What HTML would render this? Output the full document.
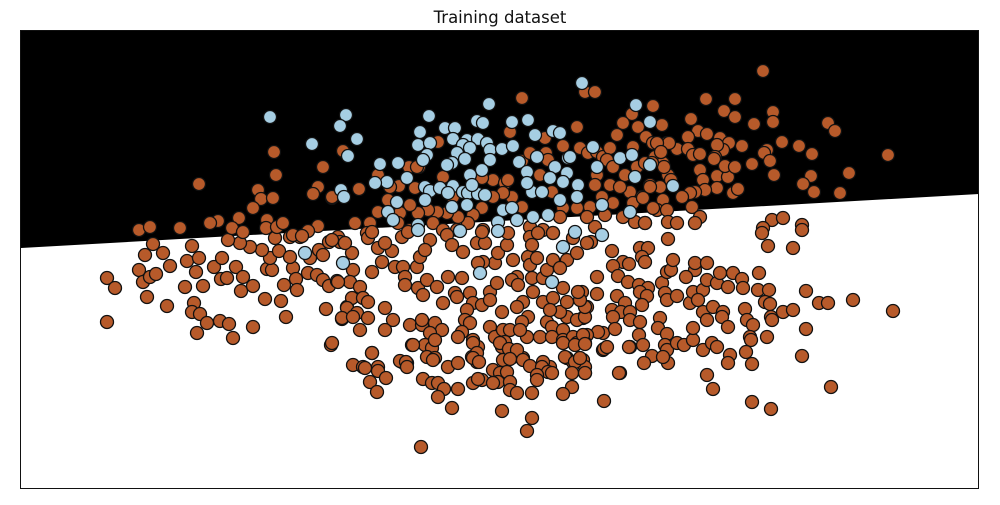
<!DOCTYPE html>
<html><head><meta charset="utf-8"><style>
html,body{margin:0;padding:0;background:#fff;}
svg{display:block;}
circle{stroke:#111;stroke-width:1.3;}
.b circle{fill:#b75a2a;}
.l circle{fill:#a6cee3;}
</style></head><body>
<svg width="1000" height="505" viewBox="0 0 1000 505" xmlns="http://www.w3.org/2000/svg">
<rect x="0" y="0" width="1000" height="505" fill="#fff"/>
<polygon points="21,30 979,30 979,194 21,248" fill="#000"/>
<text x="500" y="23" text-anchor="middle" font-family="DejaVu Sans, Liberation Sans, sans-serif" font-size="16.5" fill="#111">Training dataset</text>
<g class="b">
<circle cx="107" cy="278" r="6.5"/><circle cx="115" cy="288" r="6.5"/><circle cx="107" cy="322" r="6.5"/><circle cx="145" cy="255" r="6.5"/><circle cx="153" cy="244" r="6.5"/><circle cx="163" cy="253" r="6.5"/><circle cx="139" cy="270" r="6.5"/><circle cx="143" cy="282" r="6.5"/><circle cx="150" cy="277" r="6.5"/><circle cx="156" cy="274" r="6.5"/><circle cx="147" cy="297" r="6.5"/><circle cx="170" cy="266" r="6.5"/><circle cx="167" cy="306" r="6.5"/><circle cx="192" cy="246" r="6.5"/><circle cx="187" cy="261" r="6.5"/><circle cx="199" cy="258" r="6.5"/><circle cx="196" cy="272" r="6.5"/><circle cx="185" cy="287" r="6.5"/><circle cx="203" cy="286" r="6.5"/><circle cx="194" cy="303" r="6.5"/><circle cx="192" cy="312" r="6.5"/><circle cx="200" cy="314" r="6.5"/><circle cx="207" cy="323" r="6.5"/><circle cx="197" cy="333" r="6.5"/><circle cx="220" cy="321" r="6.5"/><circle cx="229" cy="324" r="6.5"/><circle cx="233" cy="338" r="6.5"/><circle cx="253" cy="327" r="6.5"/><circle cx="214" cy="267" r="6.5"/><circle cx="222" cy="258" r="6.5"/><circle cx="221" cy="279" r="6.5"/><circle cx="227" cy="278" r="6.5"/><circle cx="236" cy="267" r="6.5"/><circle cx="243" cy="277" r="6.5"/><circle cx="241" cy="291" r="6.5"/><circle cx="253" cy="286" r="6.5"/><circle cx="265" cy="299" r="6.5"/><circle cx="281" cy="301" r="6.5"/><circle cx="286" cy="317" r="6.5"/><circle cx="267" cy="269" r="6.5"/><circle cx="272" cy="270" r="6.5"/><circle cx="270" cy="258" r="6.5"/><circle cx="262" cy="250" r="6.5"/><circle cx="250" cy="247" r="6.5"/><circle cx="240" cy="243" r="6.5"/><circle cx="228" cy="240" r="6.5"/><circle cx="279" cy="251" r="6.5"/><circle cx="293" cy="268" r="6.5"/><circle cx="284" cy="285" r="6.5"/><circle cx="296" cy="279" r="6.5"/><circle cx="297" cy="290" r="6.5"/><circle cx="290" cy="257" r="6.5"/><circle cx="310" cy="258" r="6.5"/><circle cx="319" cy="250" r="6.5"/><circle cx="323" cy="255" r="6.5"/><circle cx="308" cy="273" r="6.5"/><circle cx="317" cy="275" r="6.5"/><circle cx="323" cy="280" r="6.5"/><circle cx="329" cy="286" r="6.5"/><circle cx="337" cy="281" r="6.5"/><circle cx="326" cy="309" r="6.5"/><circle cx="342" cy="319" r="6.5"/><circle cx="331" cy="345" r="6.5"/><circle cx="329" cy="242" r="6.5"/><circle cx="342" cy="242" r="6.5"/><circle cx="347" cy="307" r="6.5"/><circle cx="300" cy="237" r="6.5"/><circle cx="290" cy="237" r="6.5"/><circle cx="275" cy="238" r="6.5"/>
<circle cx="274" cy="152" r="6.5"/><circle cx="276" cy="175" r="6.5"/><circle cx="199" cy="184" r="6.5"/><circle cx="258" cy="190" r="6.5"/><circle cx="261" cy="199" r="6.5"/><circle cx="273" cy="198" r="6.5"/><circle cx="253" cy="208" r="6.5"/><circle cx="239" cy="218" r="6.5"/><circle cx="218" cy="221" r="6.5"/><circle cx="210" cy="223" r="6.5"/><circle cx="232" cy="228" r="6.5"/><circle cx="243" cy="232" r="6.5"/><circle cx="267" cy="220" r="6.5"/><circle cx="266" cy="228" r="6.5"/><circle cx="277" cy="227" r="6.5"/><circle cx="283" cy="223" r="6.5"/><circle cx="139" cy="230" r="6.5"/><circle cx="150" cy="227" r="6.5"/><circle cx="180" cy="228" r="6.5"/><circle cx="343" cy="151" r="6.5"/><circle cx="323" cy="167" r="6.5"/><circle cx="318" cy="187" r="6.5"/><circle cx="313" cy="194" r="6.5"/><circle cx="332" cy="198" r="6.5"/><circle cx="318" cy="226" r="6.5"/><circle cx="308" cy="231" r="6.5"/><circle cx="293" cy="235" r="6.5"/><circle cx="302" cy="236" r="6.5"/>
<circle cx="522" cy="98" r="6.5"/><circle cx="585" cy="92" r="6.5"/><circle cx="595" cy="92" r="6.5"/><circle cx="653" cy="106" r="6.5"/><circle cx="632" cy="114" r="6.5"/><circle cx="623" cy="123" r="6.5"/><circle cx="662" cy="125" r="6.5"/><circle cx="617" cy="135" r="6.5"/><circle cx="638" cy="127" r="6.5"/><circle cx="646" cy="137" r="6.5"/><circle cx="653" cy="143" r="6.5"/><circle cx="667" cy="143" r="6.5"/><circle cx="633" cy="147" r="6.5"/><circle cx="577" cy="127" r="6.5"/><circle cx="510" cy="132" r="6.5"/><circle cx="545" cy="138" r="6.5"/><circle cx="438" cy="142" r="6.5"/><circle cx="409" cy="167" r="6.5"/><circle cx="419" cy="167" r="6.5"/><circle cx="378" cy="175" r="6.5"/><circle cx="359" cy="189" r="6.5"/><circle cx="332" cy="197" r="6.5"/><circle cx="399" cy="186" r="6.5"/><circle cx="415" cy="188" r="6.5"/><circle cx="443" cy="177" r="6.5"/><circle cx="493" cy="180" r="6.5"/><circle cx="505" cy="183" r="6.5"/><circle cx="508" cy="180" r="6.5"/><circle cx="522" cy="161" r="6.5"/><circle cx="530" cy="153" r="6.5"/><circle cx="546" cy="153" r="6.5"/><circle cx="548" cy="160" r="6.5"/><circle cx="540" cy="175" r="6.5"/><circle cx="563" cy="146" r="6.5"/><circle cx="580" cy="148" r="6.5"/><circle cx="588" cy="153" r="6.5"/><circle cx="597" cy="152" r="6.5"/><circle cx="603" cy="157" r="6.5"/><circle cx="610" cy="148" r="6.5"/><circle cx="607" cy="160" r="6.5"/><circle cx="613" cy="167" r="6.5"/><circle cx="597" cy="175" r="6.5"/><circle cx="595" cy="185" r="6.5"/><circle cx="610" cy="185" r="6.5"/><circle cx="625" cy="175" r="6.5"/><circle cx="637" cy="167" r="6.5"/><circle cx="645" cy="163" r="6.5"/><circle cx="655" cy="157" r="6.5"/><circle cx="663" cy="163" r="6.5"/><circle cx="650" cy="185" r="6.5"/><circle cx="660" cy="187" r="6.5"/><circle cx="630" cy="192" r="6.5"/><circle cx="642" cy="197" r="6.5"/><circle cx="663" cy="200" r="6.5"/><circle cx="657" cy="210" r="6.5"/><circle cx="633" cy="203" r="6.5"/><circle cx="620" cy="187" r="6.5"/><circle cx="613" cy="203" r="6.5"/><circle cx="602" cy="197" r="6.5"/><circle cx="590" cy="207" r="6.5"/><circle cx="605" cy="215" r="6.5"/><circle cx="623" cy="217" r="6.5"/><circle cx="635" cy="222" r="6.5"/><circle cx="645" cy="223" r="6.5"/><circle cx="595" cy="227" r="6.5"/><circle cx="587" cy="217" r="6.5"/><circle cx="577" cy="208" r="6.5"/><circle cx="563" cy="208" r="6.5"/><circle cx="552" cy="192" r="6.5"/><circle cx="560" cy="217" r="6.5"/><circle cx="543" cy="230" r="6.5"/><circle cx="553" cy="233" r="6.5"/><circle cx="530" cy="227" r="6.5"/><circle cx="522" cy="207" r="6.5"/><circle cx="512" cy="197" r="6.5"/><circle cx="503" cy="193" r="6.5"/><circle cx="493" cy="197" r="6.5"/><circle cx="482" cy="178" r="6.5"/><circle cx="482" cy="208" r="6.5"/><circle cx="473" cy="215" r="6.5"/><circle cx="468" cy="223" r="6.5"/><circle cx="483" cy="230" r="6.5"/><circle cx="458" cy="217" r="6.5"/><circle cx="447" cy="213" r="6.5"/><circle cx="437" cy="212" r="6.5"/><circle cx="428" cy="210" r="6.5"/><circle cx="418" cy="213" r="6.5"/><circle cx="410" cy="205" r="6.5"/><circle cx="400" cy="213" r="6.5"/><circle cx="398" cy="223" r="6.5"/><circle cx="410" cy="230" r="6.5"/><circle cx="433" cy="223" r="6.5"/><circle cx="443" cy="230" r="6.5"/><circle cx="457" cy="230" r="6.5"/><circle cx="388" cy="200" r="6.5"/><circle cx="378" cy="212" r="6.5"/><circle cx="370" cy="223" r="6.5"/><circle cx="355" cy="223" r="6.5"/><circle cx="367" cy="233" r="6.5"/><circle cx="338" cy="237" r="6.5"/><circle cx="417" cy="167" r="6.5"/><circle cx="453" cy="197" r="6.5"/><circle cx="390" cy="187" r="6.5"/>
<circle cx="763" cy="71" r="6.5"/><circle cx="706" cy="99" r="6.5"/><circle cx="735" cy="99" r="6.5"/><circle cx="691" cy="119" r="6.5"/><circle cx="724" cy="111" r="6.5"/><circle cx="735" cy="117" r="6.5"/><circle cx="773" cy="112" r="6.5"/><circle cx="773" cy="122" r="6.5"/><circle cx="754" cy="124" r="6.5"/><circle cx="828" cy="123" r="6.5"/><circle cx="835" cy="131" r="6.5"/><circle cx="888" cy="155" r="6.5"/><circle cx="698" cy="131" r="6.5"/><circle cx="707" cy="134" r="6.5"/><circle cx="688" cy="137" r="6.5"/><circle cx="720" cy="138" r="6.5"/><circle cx="729" cy="143" r="6.5"/><circle cx="723" cy="150" r="6.5"/><circle cx="717" cy="145" r="6.5"/><circle cx="742" cy="146" r="6.5"/><circle cx="782" cy="142" r="6.5"/><circle cx="799" cy="146" r="6.5"/><circle cx="812" cy="154" r="6.5"/><circle cx="767" cy="150" r="6.5"/><circle cx="764" cy="153" r="6.5"/><circle cx="770" cy="161" r="6.5"/><circle cx="752" cy="164" r="6.5"/><circle cx="774" cy="175" r="6.5"/><circle cx="849" cy="173" r="6.5"/><circle cx="811" cy="176" r="6.5"/><circle cx="803" cy="184" r="6.5"/><circle cx="814" cy="192" r="6.5"/><circle cx="840" cy="193" r="6.5"/><circle cx="677" cy="149" r="6.5"/><circle cx="669" cy="143" r="6.5"/><circle cx="657" cy="143" r="6.5"/><circle cx="661" cy="152" r="6.5"/><circle cx="688" cy="149" r="6.5"/><circle cx="693" cy="155" r="6.5"/><circle cx="700" cy="154" r="6.5"/><circle cx="715" cy="157" r="6.5"/><circle cx="714" cy="159" r="6.5"/><circle cx="700" cy="170" r="6.5"/><circle cx="703" cy="180" r="6.5"/><circle cx="717" cy="176" r="6.5"/><circle cx="728" cy="177" r="6.5"/><circle cx="725" cy="166" r="6.5"/><circle cx="735" cy="167" r="6.5"/><circle cx="717" cy="188" r="6.5"/><circle cx="705" cy="190" r="6.5"/><circle cx="695" cy="192" r="6.5"/><circle cx="690" cy="193" r="6.5"/><circle cx="682" cy="197" r="6.5"/><circle cx="668" cy="175" r="6.5"/><circle cx="671" cy="180" r="6.5"/><circle cx="664" cy="167" r="6.5"/><circle cx="652" cy="163" r="6.5"/><circle cx="650" cy="187" r="6.5"/><circle cx="733" cy="193" r="6.5"/><circle cx="738" cy="189" r="6.5"/><circle cx="692" cy="207" r="6.5"/><circle cx="700" cy="217" r="6.5"/><circle cx="695" cy="223" r="6.5"/><circle cx="667" cy="210" r="6.5"/><circle cx="653" cy="208" r="6.5"/><circle cx="668" cy="222" r="6.5"/><circle cx="677" cy="223" r="6.5"/><circle cx="645" cy="223" r="6.5"/><circle cx="643" cy="198" r="6.5"/><circle cx="772" cy="220" r="6.5"/><circle cx="783" cy="218" r="6.5"/><circle cx="802" cy="225" r="6.5"/><circle cx="763" cy="228" r="6.5"/>
<circle cx="591" cy="242" r="6.5"/><circle cx="612" cy="251" r="6.5"/><circle cx="668" cy="239" r="6.5"/><circle cx="640" cy="248" r="6.5"/><circle cx="648" cy="248" r="6.5"/><circle cx="642" cy="257" r="6.5"/><circle cx="645" cy="262" r="6.5"/><circle cx="623" cy="262" r="6.5"/><circle cx="629" cy="264" r="6.5"/><circle cx="613" cy="266" r="6.5"/><circle cx="618" cy="276" r="6.5"/><circle cx="597" cy="277" r="6.5"/><circle cx="628" cy="282" r="6.5"/><circle cx="639" cy="285" r="6.5"/><circle cx="648" cy="288" r="6.5"/><circle cx="640" cy="292" r="6.5"/><circle cx="647" cy="296" r="6.5"/><circle cx="617" cy="296" r="6.5"/><circle cx="597" cy="294" r="6.5"/><circle cx="582" cy="292" r="6.5"/><circle cx="587" cy="307" r="6.5"/><circle cx="625" cy="303" r="6.5"/><circle cx="642" cy="305" r="6.5"/><circle cx="612" cy="310" r="6.5"/><circle cx="621" cy="312" r="6.5"/><circle cx="630" cy="312" r="6.5"/><circle cx="630" cy="320" r="6.5"/><circle cx="640" cy="322" r="6.5"/><circle cx="613" cy="317" r="6.5"/><circle cx="583" cy="318" r="6.5"/><circle cx="603" cy="333" r="6.5"/><circle cx="615" cy="329" r="6.5"/><circle cx="598" cy="332" r="6.5"/><circle cx="587" cy="335" r="6.5"/><circle cx="585" cy="343" r="6.5"/><circle cx="603" cy="350" r="6.5"/><circle cx="630" cy="347" r="6.5"/><circle cx="639" cy="335" r="6.5"/><circle cx="643" cy="345" r="6.5"/><circle cx="652" cy="356" r="6.5"/><circle cx="644" cy="363" r="6.5"/><circle cx="620" cy="373" r="6.5"/><circle cx="585" cy="373" r="6.5"/><circle cx="582" cy="360" r="6.5"/><circle cx="604" cy="401" r="6.5"/><circle cx="662" cy="283" r="6.5"/><circle cx="667" cy="272" r="6.5"/><circle cx="671" cy="270" r="6.5"/><circle cx="673" cy="260" r="6.5"/><circle cx="665" cy="293" r="6.5"/><circle cx="667" cy="300" r="6.5"/><circle cx="677" cy="296" r="6.5"/><circle cx="660" cy="318" r="6.5"/><circle cx="658" cy="328" r="6.5"/><circle cx="667" cy="334" r="6.5"/><circle cx="665" cy="345" r="6.5"/><circle cx="667" cy="350" r="6.5"/><circle cx="668" cy="363" r="6.5"/><circle cx="663" cy="357" r="6.5"/><circle cx="677" cy="343" r="6.5"/><circle cx="684" cy="345" r="6.5"/><circle cx="693" cy="340" r="6.5"/><circle cx="693" cy="328" r="6.5"/><circle cx="703" cy="350" r="6.5"/><circle cx="712" cy="343" r="6.5"/><circle cx="717" cy="347" r="6.5"/><circle cx="690" cy="303" r="6.5"/><circle cx="693" cy="292" r="6.5"/><circle cx="703" cy="290" r="6.5"/><circle cx="695" cy="270" r="6.5"/><circle cx="686" cy="277" r="6.5"/><circle cx="695" cy="263" r="6.5"/><circle cx="707" cy="263" r="6.5"/><circle cx="707" cy="280" r="6.5"/><circle cx="717" cy="283" r="6.5"/><circle cx="720" cy="273" r="6.5"/><circle cx="733" cy="273" r="6.5"/><circle cx="742" cy="279" r="6.5"/><circle cx="728" cy="287" r="6.5"/><circle cx="743" cy="288" r="6.5"/><circle cx="703" cy="312" r="6.5"/><circle cx="707" cy="320" r="6.5"/><circle cx="698" cy="300" r="6.5"/><circle cx="713" cy="307" r="6.5"/><circle cx="723" cy="312" r="6.5"/><circle cx="722" cy="317" r="6.5"/><circle cx="728" cy="327" r="6.5"/><circle cx="730" cy="355" r="6.5"/><circle cx="728" cy="363" r="6.5"/><circle cx="707" cy="375" r="6.5"/><circle cx="713" cy="389" r="6.5"/><circle cx="745" cy="309" r="6.5"/><circle cx="747" cy="320" r="6.5"/><circle cx="753" cy="325" r="6.5"/><circle cx="750" cy="337" r="6.5"/><circle cx="751" cy="340" r="6.5"/><circle cx="746" cy="352" r="6.5"/><circle cx="752" cy="364" r="6.5"/><circle cx="752" cy="402" r="6.5"/><circle cx="771" cy="409" r="6.5"/><circle cx="759" cy="273" r="6.5"/><circle cx="758" cy="290" r="6.5"/><circle cx="769" cy="290" r="6.5"/><circle cx="765" cy="302" r="6.5"/><circle cx="770" cy="304" r="6.5"/><circle cx="771" cy="317" r="6.5"/><circle cx="772" cy="320" r="6.5"/><circle cx="767" cy="337" r="6.5"/><circle cx="783" cy="312" r="6.5"/><circle cx="793" cy="310" r="6.5"/><circle cx="762" cy="233" r="6.5"/><circle cx="768" cy="246" r="6.5"/><circle cx="793" cy="248" r="6.5"/><circle cx="802" cy="230" r="6.5"/><circle cx="806" cy="291" r="6.5"/><circle cx="819" cy="303" r="6.5"/><circle cx="828" cy="303" r="6.5"/><circle cx="853" cy="300" r="6.5"/><circle cx="893" cy="311" r="6.5"/><circle cx="806" cy="329" r="6.5"/><circle cx="802" cy="356" r="6.5"/><circle cx="831" cy="387" r="6.5"/>
<circle cx="340" cy="242" r="6.5"/><circle cx="332" cy="240" r="6.5"/><circle cx="352" cy="253" r="6.5"/><circle cx="368" cy="238" r="6.5"/><circle cx="372" cy="232" r="6.5"/><circle cx="378" cy="248" r="6.5"/><circle cx="392" cy="251" r="6.5"/><circle cx="382" cy="262" r="6.5"/><circle cx="372" cy="272" r="6.5"/><circle cx="353" cy="270" r="6.5"/><circle cx="350" cy="282" r="6.5"/><circle cx="360" cy="287" r="6.5"/><circle cx="338" cy="282" r="6.5"/><circle cx="352" cy="298" r="6.5"/><circle cx="363" cy="298" r="6.5"/><circle cx="368" cy="302" r="6.5"/><circle cx="347" cy="308" r="6.5"/><circle cx="357" cy="313" r="6.5"/><circle cx="368" cy="318" r="6.5"/><circle cx="342" cy="318" r="6.5"/><circle cx="360" cy="330" r="6.5"/><circle cx="385" cy="308" r="6.5"/><circle cx="393" cy="320" r="6.5"/><circle cx="385" cy="330" r="6.5"/><circle cx="332" cy="343" r="6.5"/><circle cx="372" cy="353" r="6.5"/><circle cx="353" cy="365" r="6.5"/><circle cx="363" cy="367" r="6.5"/><circle cx="378" cy="367" r="6.5"/><circle cx="402" cy="362" r="6.5"/><circle cx="407" cy="363" r="6.5"/><circle cx="395" cy="267" r="6.5"/><circle cx="403" cy="267" r="6.5"/><circle cx="405" cy="277" r="6.5"/><circle cx="417" cy="267" r="6.5"/><circle cx="420" cy="257" r="6.5"/><circle cx="405" cy="285" r="6.5"/><circle cx="418" cy="288" r="6.5"/><circle cx="427" cy="280" r="6.5"/><circle cx="437" cy="287" r="6.5"/><circle cx="423" cy="295" r="6.5"/><circle cx="410" cy="325" r="6.5"/><circle cx="422" cy="325" r="6.5"/><circle cx="422" cy="320" r="6.5"/><circle cx="435" cy="323" r="6.5"/><circle cx="442" cy="330" r="6.5"/><circle cx="430" cy="333" r="6.5"/><circle cx="412" cy="345" r="6.5"/><circle cx="425" cy="345" r="6.5"/><circle cx="432" cy="348" r="6.5"/><circle cx="435" cy="340" r="6.5"/><circle cx="427" cy="357" r="6.5"/><circle cx="435" cy="358" r="6.5"/><circle cx="448" cy="277" r="6.5"/><circle cx="462" cy="278" r="6.5"/><circle cx="455" cy="293" r="6.5"/><circle cx="457" cy="297" r="6.5"/><circle cx="443" cy="303" r="6.5"/><circle cx="470" cy="293" r="6.5"/><circle cx="473" cy="303" r="6.5"/><circle cx="482" cy="305" r="6.5"/><circle cx="467" cy="310" r="6.5"/><circle cx="465" cy="320" r="6.5"/><circle cx="470" cy="323" r="6.5"/><circle cx="462" cy="332" r="6.5"/><circle cx="458" cy="337" r="6.5"/><circle cx="473" cy="340" r="6.5"/><circle cx="478" cy="347" r="6.5"/><circle cx="472" cy="357" r="6.5"/><circle cx="477" cy="362" r="6.5"/><circle cx="463" cy="252" r="6.5"/><circle cx="477" cy="243" r="6.5"/><circle cx="485" cy="243" r="6.5"/><circle cx="495" cy="263" r="6.5"/><circle cx="483" cy="262" r="6.5"/><circle cx="498" cy="253" r="6.5"/><circle cx="507" cy="245" r="6.5"/><circle cx="490" cy="292" r="6.5"/><circle cx="497" cy="283" r="6.5"/><circle cx="502" cy="312" r="6.5"/><circle cx="490" cy="300" r="6.5"/><circle cx="513" cy="260" r="6.5"/><circle cx="528" cy="257" r="6.5"/><circle cx="530" cy="265" r="6.5"/><circle cx="517" cy="277" r="6.5"/><circle cx="512" cy="280" r="6.5"/><circle cx="518" cy="285" r="6.5"/><circle cx="532" cy="278" r="6.5"/><circle cx="543" cy="278" r="6.5"/><circle cx="547" cy="270" r="6.5"/><circle cx="533" cy="292" r="6.5"/><circle cx="543" cy="302" r="6.5"/><circle cx="523" cy="302" r="6.5"/><circle cx="517" cy="307" r="6.5"/><circle cx="528" cy="317" r="6.5"/><circle cx="522" cy="322" r="6.5"/><circle cx="490" cy="327" r="6.5"/><circle cx="495" cy="337" r="6.5"/><circle cx="503" cy="330" r="6.5"/><circle cx="510" cy="330" r="6.5"/><circle cx="505" cy="342" r="6.5"/><circle cx="502" cy="347" r="6.5"/><circle cx="510" cy="350" r="6.5"/><circle cx="513" cy="357" r="6.5"/><circle cx="503" cy="360" r="6.5"/><circle cx="527" cy="337" r="6.5"/><circle cx="520" cy="330" r="6.5"/><circle cx="523" cy="358" r="6.5"/><circle cx="540" cy="337" r="6.5"/><circle cx="547" cy="322" r="6.5"/><circle cx="552" cy="327" r="6.5"/><circle cx="552" cy="337" r="6.5"/><circle cx="563" cy="330" r="6.5"/><circle cx="563" cy="340" r="6.5"/><circle cx="573" cy="337" r="6.5"/><circle cx="577" cy="343" r="6.5"/><circle cx="583" cy="335" r="6.5"/><circle cx="567" cy="317" r="6.5"/><circle cx="560" cy="312" r="6.5"/><circle cx="577" cy="320" r="6.5"/><circle cx="585" cy="317" r="6.5"/><circle cx="585" cy="307" r="6.5"/><circle cx="580" cy="300" r="6.5"/><circle cx="567" cy="302" r="6.5"/><circle cx="553" cy="298" r="6.5"/><circle cx="550" cy="310" r="6.5"/><circle cx="563" cy="288" r="6.5"/><circle cx="578" cy="292" r="6.5"/><circle cx="553" cy="260" r="6.5"/><circle cx="567" cy="260" r="6.5"/><circle cx="560" cy="268" r="6.5"/><circle cx="577" cy="253" r="6.5"/><circle cx="587" cy="243" r="6.5"/><circle cx="573" cy="238" r="6.5"/><circle cx="537" cy="258" r="6.5"/><circle cx="567" cy="358" r="6.5"/><circle cx="573" cy="362" r="6.5"/><circle cx="583" cy="360" r="6.5"/><circle cx="585" cy="367" r="6.5"/><circle cx="550" cy="367" r="6.5"/><circle cx="543" cy="362" r="6.5"/><circle cx="353" cy="317" r="6.5"/><circle cx="345" cy="243" r="6.5"/><circle cx="385" cy="243" r="6.5"/><circle cx="402" cy="237" r="6.5"/><circle cx="408" cy="232" r="6.5"/><circle cx="430" cy="240" r="6.5"/><circle cx="425" cy="250" r="6.5"/><circle cx="447" cy="235" r="6.5"/><circle cx="452" cy="245" r="6.5"/><circle cx="482" cy="232" r="6.5"/><circle cx="508" cy="233" r="6.5"/><circle cx="530" cy="237" r="6.5"/><circle cx="538" cy="233" r="6.5"/><circle cx="553" cy="233" r="6.5"/><circle cx="532" cy="245" r="6.5"/><circle cx="478" cy="263" r="6.5"/>
<circle cx="372" cy="353" r="6.5"/><circle cx="365" cy="368" r="6.5"/><circle cx="378" cy="371" r="6.5"/><circle cx="386" cy="378" r="6.5"/><circle cx="370" cy="382" r="6.5"/><circle cx="377" cy="392" r="6.5"/><circle cx="400" cy="361" r="6.5"/><circle cx="406" cy="362" r="6.5"/><circle cx="407" cy="367" r="6.5"/><circle cx="413" cy="345" r="6.5"/><circle cx="433" cy="360" r="6.5"/><circle cx="448" cy="367" r="6.5"/><circle cx="458" cy="363" r="6.5"/><circle cx="423" cy="379" r="6.5"/><circle cx="432" cy="383" r="6.5"/><circle cx="438" cy="383" r="6.5"/><circle cx="444" cy="389" r="6.5"/><circle cx="438" cy="397" r="6.5"/><circle cx="458" cy="389" r="6.5"/><circle cx="452" cy="408" r="6.5"/><circle cx="421" cy="447" r="6.5"/><circle cx="473" cy="343" r="6.5"/><circle cx="477" cy="353" r="6.5"/><circle cx="473" cy="358" r="6.5"/><circle cx="479" cy="362" r="6.5"/><circle cx="473" cy="383" r="6.5"/><circle cx="482" cy="380" r="6.5"/><circle cx="478" cy="379" r="6.5"/><circle cx="493" cy="370" r="6.5"/><circle cx="500" cy="373" r="6.5"/><circle cx="498" cy="382" r="6.5"/><circle cx="493" cy="383" r="6.5"/><circle cx="507" cy="372" r="6.5"/><circle cx="510" cy="382" r="6.5"/><circle cx="510" cy="390" r="6.5"/><circle cx="517" cy="393" r="6.5"/><circle cx="500" cy="343" r="6.5"/><circle cx="509" cy="349" r="6.5"/><circle cx="517" cy="350" r="6.5"/><circle cx="510" cy="359" r="6.5"/><circle cx="523" cy="360" r="6.5"/><circle cx="530" cy="366" r="6.5"/><circle cx="542" cy="367" r="6.5"/><circle cx="548" cy="372" r="6.5"/><circle cx="552" cy="373" r="6.5"/><circle cx="537" cy="375" r="6.5"/><circle cx="537" cy="380" r="6.5"/><circle cx="532" cy="393" r="6.5"/><circle cx="502" cy="411" r="6.5"/><circle cx="532" cy="418" r="6.5"/><circle cx="527" cy="431" r="6.5"/><circle cx="563" cy="343" r="6.5"/><circle cx="575" cy="345" r="6.5"/><circle cx="585" cy="344" r="6.5"/><circle cx="565" cy="357" r="6.5"/><circle cx="575" cy="362" r="6.5"/><circle cx="580" cy="358" r="6.5"/><circle cx="572" cy="373" r="6.5"/><circle cx="585" cy="373" r="6.5"/><circle cx="572" cy="387" r="6.5"/><circle cx="563" cy="394" r="6.5"/><circle cx="604" cy="349" r="6.5"/><circle cx="607" cy="347" r="6.5"/><circle cx="629" cy="347" r="6.5"/><circle cx="619" cy="373" r="6.5"/>
</g>
<g class="l">
<circle cx="270" cy="117" r="6.5"/><circle cx="312" cy="144" r="6.5"/><circle cx="346" cy="115" r="6.5"/><circle cx="340" cy="126" r="6.5"/><circle cx="357" cy="139" r="6.5"/><circle cx="348" cy="156" r="6.5"/><circle cx="341" cy="190" r="6.5"/><circle cx="344" cy="197" r="6.5"/><circle cx="343" cy="263" r="6.5"/><circle cx="305" cy="253" r="6.5"/><circle cx="429" cy="116" r="6.5"/><circle cx="489" cy="104" r="6.5"/><circle cx="582" cy="83" r="6.5"/><circle cx="636" cy="105" r="6.5"/><circle cx="650" cy="122" r="6.5"/><circle cx="528" cy="120" r="6.5"/><circle cx="512" cy="122" r="6.5"/><circle cx="477" cy="121" r="6.5"/><circle cx="483" cy="123" r="6.5"/><circle cx="445" cy="128" r="6.5"/><circle cx="455" cy="128" r="6.5"/><circle cx="420" cy="132" r="6.5"/><circle cx="418" cy="145" r="6.5"/><circle cx="430" cy="143" r="6.5"/><circle cx="427" cy="155" r="6.5"/><circle cx="423" cy="160" r="6.5"/><circle cx="453" cy="139" r="6.5"/><circle cx="467" cy="140" r="6.5"/><circle cx="478" cy="139" r="6.5"/><circle cx="487" cy="143" r="6.5"/><circle cx="463" cy="145" r="6.5"/><circle cx="470" cy="148" r="6.5"/><circle cx="457" cy="153" r="6.5"/><circle cx="490" cy="150" r="6.5"/><circle cx="502" cy="149" r="6.5"/><circle cx="513" cy="146" r="6.5"/><circle cx="452" cy="163" r="6.5"/><circle cx="447" cy="165" r="6.5"/><circle cx="465" cy="159" r="6.5"/><circle cx="490" cy="160" r="6.5"/><circle cx="482" cy="170" r="6.5"/><circle cx="470" cy="175" r="6.5"/><circle cx="519" cy="162" r="6.5"/><circle cx="527" cy="172" r="6.5"/><circle cx="537" cy="157" r="6.5"/><circle cx="535" cy="135" r="6.5"/><circle cx="553" cy="131" r="6.5"/><circle cx="560" cy="133" r="6.5"/><circle cx="568" cy="158" r="6.5"/><circle cx="555" cy="167" r="6.5"/><circle cx="567" cy="173" r="6.5"/><circle cx="550" cy="178" r="6.5"/><circle cx="380" cy="164" r="6.5"/><circle cx="398" cy="163" r="6.5"/><circle cx="407" cy="178" r="6.5"/><circle cx="387" cy="182" r="6.5"/><circle cx="375" cy="183" r="6.5"/><circle cx="425" cy="187" r="6.5"/><circle cx="430" cy="191" r="6.5"/><circle cx="440" cy="188" r="6.5"/><circle cx="453" cy="186" r="6.5"/><circle cx="463" cy="192" r="6.5"/><circle cx="468" cy="193" r="6.5"/><circle cx="478" cy="194" r="6.5"/><circle cx="485" cy="195" r="6.5"/><circle cx="472" cy="185" r="6.5"/><circle cx="448" cy="193" r="6.5"/><circle cx="397" cy="202" r="6.5"/><circle cx="388" cy="212" r="6.5"/><circle cx="393" cy="220" r="6.5"/><circle cx="418" cy="225" r="6.5"/><circle cx="425" cy="200" r="6.5"/><circle cx="452" cy="207" r="6.5"/><circle cx="467" cy="205" r="6.5"/><circle cx="498" cy="222" r="6.5"/><circle cx="503" cy="210" r="6.5"/><circle cx="512" cy="208" r="6.5"/><circle cx="517" cy="220" r="6.5"/><circle cx="532" cy="192" r="6.5"/><circle cx="527" cy="183" r="6.5"/><circle cx="542" cy="192" r="6.5"/><circle cx="533" cy="217" r="6.5"/><circle cx="548" cy="215" r="6.5"/><circle cx="563" cy="182" r="6.5"/><circle cx="578" cy="185" r="6.5"/><circle cx="577" cy="197" r="6.5"/><circle cx="560" cy="200" r="6.5"/><circle cx="570" cy="157" r="6.5"/><circle cx="597" cy="167" r="6.5"/><circle cx="593" cy="147" r="6.5"/><circle cx="602" cy="205" r="6.5"/><circle cx="630" cy="212" r="6.5"/><circle cx="575" cy="232" r="6.5"/><circle cx="620" cy="158" r="6.5"/><circle cx="632" cy="155" r="6.5"/><circle cx="635" cy="177" r="6.5"/><circle cx="650" cy="165" r="6.5"/><circle cx="673" cy="186" r="6.5"/><circle cx="480" cy="273" r="6.5"/><circle cx="552" cy="282" r="6.5"/><circle cx="563" cy="247" r="6.5"/><circle cx="498" cy="231" r="6.5"/><circle cx="460" cy="231" r="6.5"/><circle cx="418" cy="230" r="6.5"/><circle cx="602" cy="235" r="6.5"/>
</g>
<rect x="20.5" y="30.5" width="958" height="458" fill="none" stroke="#111" stroke-width="1"/>
</svg>
</body></html>
